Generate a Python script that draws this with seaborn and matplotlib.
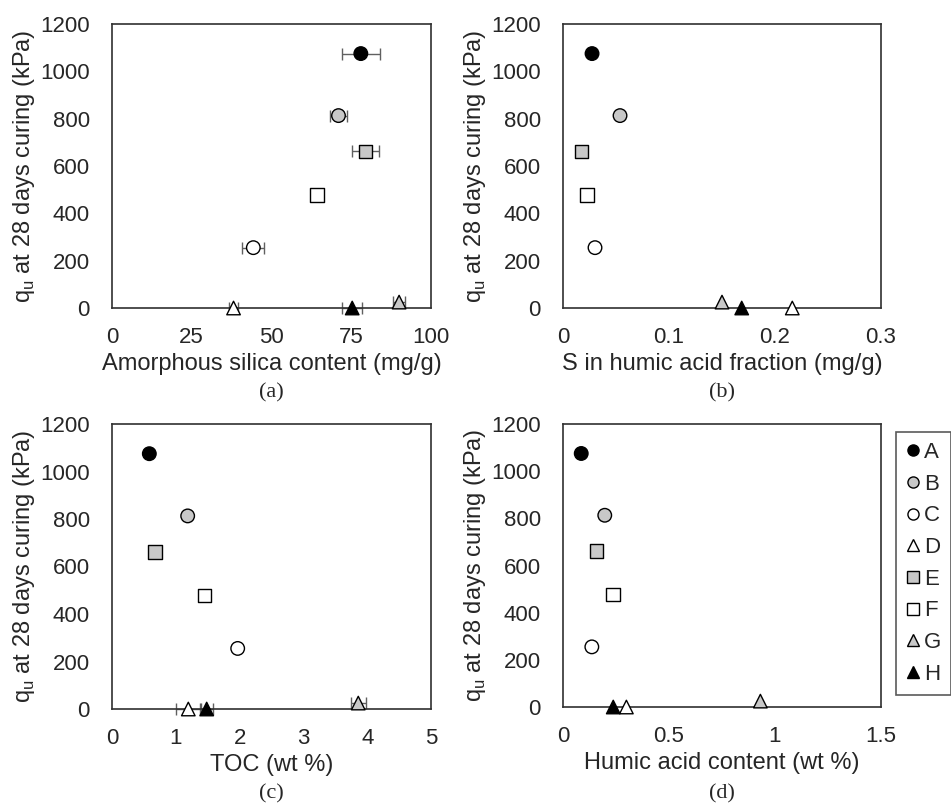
import matplotlib.pyplot as plt
import matplotlib.lines as mlines
import pandas as pd
import seaborn as sns

# Data
samples = ['A', 'B', 'C', 'D', 'E', 'F', 'G', 'H']
qu = [1075, 813, 255, 0, 662, 478, 25, 0]
silica = [78.0, 71.0, 44.3, 38.1, 79.5, 64.2, 90.0, 75.3]
silica_err = [6.0, 2.8, 3.4, 1.5, 4.2, 0.0, 2.0, 3.1]
s_humic = [0.0274, 0.0538, 0.0302, 0.2163, 0.0176, 0.0226, 0.150, 0.1686]
toc = [0.585, 1.186, 1.97, 1.196, 0.674, 1.447, 3.86, 1.484]
toc_err = [0.0, 0.0, 0.0, 0.2, 0.0, 0.0, 0.12, 0.1]
humic = [0.086, 0.197, 0.136, 0.299, 0.158, 0.237, 0.931, 0.237]

face_colors = {'A': 'black', 'B': '#c8c8c8', 'C': 'white', 'D': 'white',
               'E': '#c8c8c8', 'F': 'white', 'G': '#c8c8c8', 'H': 'black'}
marker_map = {'A': 'o', 'B': 'o', 'C': 'o', 'D': '^',
              'E': 's', 'F': 's', 'G': '^', 'H': '^'}

df = pd.DataFrame({'sample': samples, 'qu': qu, 'silica': silica,
                   'silica_err': silica_err, 's_humic': s_humic,
                   'toc': toc, 'toc_err': toc_err, 'humic': humic})

sns.set_style('white')
plt.rcParams['font.family'] = ['Liberation Sans', 'DejaVu Sans']
EDGE = '#303030'


def style_axis(ax, xlabel, xlim, xticks, xticklabels):
    ax.set_xlim(*xlim)
    ax.set_ylim(0, 1200)
    ax.set_xticks(xticks)
    ax.set_xticklabels(xticklabels)
    ax.set_yticks(range(0, 1201, 200))
    ax.tick_params(direction='in', length=6, width=1, color=EDGE,
                   labelsize=16)
    ax.tick_params(axis='x', pad=14)
    ax.tick_params(axis='y', pad=16)
    ax.set_xlabel(xlabel, fontsize=17, labelpad=3)
    ax.set_ylabel('q$_\\mathregular{u}$ at 28 days curing (kPa)', fontsize=17,
                  labelpad=2)
    for sp in ax.spines.values():
        sp.set_visible(True)
        sp.set_color(EDGE)
        sp.set_linewidth(1.2)


def draw_panel(ax, xcol, errcol=None):
    if errcol is not None:
        sub = df[df[errcol] > 0]
        ax.errorbar(sub[xcol], sub['qu'], xerr=sub[errcol], fmt='none',
                    ecolor='#606060', elinewidth=1, capsize=4, capthick=1,
                    zorder=2, clip_on=False)
    sns.scatterplot(data=df, x=xcol, y='qu', hue='sample', style='sample',
                    palette=face_colors, markers=marker_map, s=95,
                    edgecolor='black', linewidth=1, legend=False, ax=ax,
                    zorder=3, clip_on=False)


fig = plt.figure(figsize=(9.51, 8.08), dpi=100)
W, H = 951, 808


def add_ax(l, t, r, b):
    return fig.add_axes([l / W, 1 - b / H, (r - l) / W, (b - t) / H])


ax_a = add_ax(112, 24, 431, 308)
ax_b = add_ax(563, 24, 881, 308)
ax_c = add_ax(112, 424, 431, 709)
ax_d = add_ax(563, 424, 881, 707)

draw_panel(ax_a, 'silica', 'silica_err')
style_axis(ax_a, 'Amorphous silica content (mg/g)', (0, 100),
           [0, 25, 50, 75, 100], ['0', '25', '50', '75', '100'])

draw_panel(ax_b, 's_humic')
style_axis(ax_b, 'S in humic acid fraction (mg/g)', (0, 0.3),
           [0, 0.1, 0.2, 0.3], ['0', '0.1', '0.2', '0.3'])

draw_panel(ax_c, 'toc', 'toc_err')
style_axis(ax_c, 'TOC (wt %)', (0, 5), [0, 1, 2, 3, 4, 5],
           ['0', '1', '2', '3', '4', '5'])

draw_panel(ax_d, 'humic')
style_axis(ax_d, 'Humic acid content (wt %)', (0, 1.5),
           [0, 0.5, 1, 1.5], ['0', '0.5', '1', '1.5'])

# panel captions
serif = ['Liberation Serif', 'DejaVu Serif']
for txt, x, y in [('(a)', 271, 393), ('(b)', 722, 393),
                  ('(c)', 271, 794), ('(d)', 722, 794)]:
    fig.text(x / W, 1 - y / H, txt, ha='center', va='center', fontsize=16,
             family=serif)

# legend
handles = [mlines.Line2D([], [], linestyle='none', marker=marker_map[s],
                         markerfacecolor=face_colors[s],
                         markeredgecolor='black', markersize=8,
                         markeredgewidth=1, label=s) for s in samples]
leg = fig.legend(handles=handles, loc='upper left',
                 bbox_to_anchor=(896 / W, 1 - 432 / H), frameon=True,
                 fontsize=16, handlelength=0.6, handletextpad=0.2,
                 labelspacing=0.48, borderpad=0.45, borderaxespad=0,
                 fancybox=False)
leg.get_frame().set_edgecolor(EDGE)
leg.get_frame().set_linewidth(1.2)

fig.savefig('out.png', dpi=100)
